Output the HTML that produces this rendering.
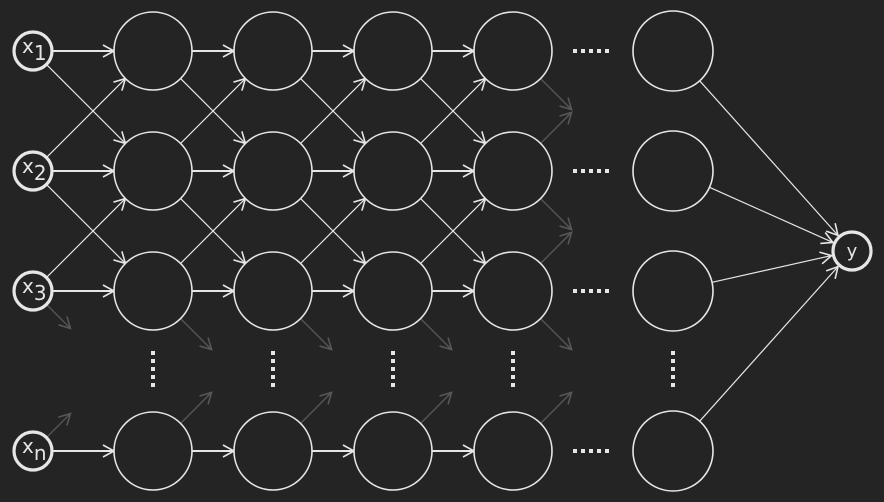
<!DOCTYPE html>
<html><head><meta charset="utf-8"><style>
html,body{margin:0;padding:0;background:#242424;}
svg{display:block;}
</style></head><body>
<svg id="net" width="884" height="502" viewBox="0 0 884 502" xmlns="http://www.w3.org/2000/svg">
<defs>
<marker id="ah" markerUnits="userSpaceOnUse" markerWidth="14" markerHeight="14" refX="12" refY="7" orient="auto">
<path d="M1,1 L12,7 L1,13" fill="none" stroke="#e6e6e6" stroke-width="1.6"/>
</marker>
<marker id="ahd" markerUnits="userSpaceOnUse" markerWidth="14" markerHeight="14" refX="12" refY="7" orient="auto">
<path d="M1,1 L12,7 L1,13" fill="none" stroke="#575757" stroke-width="1.6"/>
</marker>
</defs>
<rect width="884" height="502" fill="#242424"/>
<g id="g"></g>
</svg>
<script>
const inputLabels=['1','2','3','n'];
const rowsY=[51,171,291,451];
const colsX=[153,273,393,513,673];
const inputX=33, outX=852, outY=251;
const rIn=19, rH=39;
const NS='http://www.w3.org/2000/svg';
const g=document.getElementById('g');
function mk(tag,attrs){const e=document.createElementNS(NS,tag);for(const k in attrs)e.setAttribute(k,attrs[k]);g.appendChild(e);return e;}
function arrow(x1,y1,r1,x2,y2,r2,w,dim,name){
  const dx=x2-x1,dy=y2-y1,L=Math.hypot(dx,dy),ux=dx/L,uy=dy/L;
  const e=mk('line',{x1:x1+ux*r1,y1:y1+uy*r1,x2:x2-ux*r2,y2:y2-uy*r2,stroke:dim?'#575757':'#e6e6e6','stroke-width':w,'marker-end':dim?'url(#ahd)':'url(#ah)'});
  
  
}
function stub(x,y,r,dir,len,name){ // dir +1 down, -1 up
  const s=0.7071;
  const e=mk('line',{x1:x+r*s,y1:y+dir*r*s,x2:x+r*s+len,y2:y+dir*(r*s+len),stroke:'#575757','stroke-width':1.4,'marker-end':'url(#ahd)'});
  
  
}
const srcX=[inputX,colsX[0],colsX[1],colsX[2]];
const srcR=[rIn,rH,rH,rH];
for(let c=0;c<4;c++){
  const sx=srcX[c],sr=srcR[c],tx=colsX[c];
  const len=c==0?24:31;
  for(let i=0;i<4;i++){
    arrow(sx,rowsY[i],sr,tx,rowsY[i],rH,2,false,'edge-horizontal');
  }
  for(let i=0;i<3;i++){
    if(i<2) arrow(sx,rowsY[i],sr,tx,rowsY[i+1],rH,1.2,false,'edge-down');
    if(i>0) arrow(sx,rowsY[i],sr,tx,rowsY[i-1],rH,1.2,false,'edge-up');
  }
  stub(sx,rowsY[2],sr,1,len,'edge-fade-down');
  stub(sx,rowsY[3],sr,-1,len,'edge-fade-up');
}
for(let i=0;i<3;i++){
  stub(colsX[3],rowsY[i],rH,1,31,'edge-fade-down');
  if(i>0) stub(colsX[3],rowsY[i],rH,-1,31,'edge-fade-up');
}
stub(colsX[3],rowsY[3],rH,-1,31,'edge-fade-up');
for(let i=0;i<4;i++) arrow(colsX[4],rowsY[i],rH+1,outX,outY,rIn+2,1.2,false,'edge-to-output');
for(let c=0;c<colsX.length;c++){
  for(let i=0;i<4;i++){
    const e=mk('circle',{cx:colsX[c],cy:rowsY[i],r:c==4?40:rH,fill:'#242424',stroke:'#e6e6e6','stroke-width':1.6});
    
    
  }
  for(let k=0;k<5;k++){
    const e=mk('rect',{x:colsX[c]-2,y:351+k*8,width:4,height:4,fill:'#e6e6e6'});
    
    
  }
}
for(let i=0;i<4;i++){
  for(let k=0;k<5;k++){
    const e=mk('rect',{x:573+k*8,y:rowsY[i]-2,width:4,height:4,fill:'#e6e6e6'});
    
    
  }
}
for(let i=0;i<4;i++){
  const c=mk('circle',{cx:inputX,cy:rowsY[i],r:rIn,fill:'#242424',stroke:'#e6e6e6','stroke-width':3.2});
  
  
  const t=mk('text',{x:22,y:rowsY[i]+2,fill:'#e6e6e6','font-family':'DejaVu Sans, Liberation Sans, sans-serif','font-size':20});
  
  
  t.textContent='x';
  const s=document.createElementNS(NS,'tspan');
  s.setAttribute('dy','7');s.setAttribute('font-size','20');
  s.textContent=inputLabels[i];
  t.appendChild(s);
}
const o=mk('circle',{cx:outX,cy:outY,r:rIn,fill:'#242424',stroke:'#e6e6e6','stroke-width':3.2});


const ot=mk('text',{x:outX,y:outY+6,fill:'#e6e6e6','text-anchor':'middle','font-family':'DejaVu Sans, Liberation Sans, sans-serif','font-size':18});


ot.textContent='y';
</script>
</body></html>
